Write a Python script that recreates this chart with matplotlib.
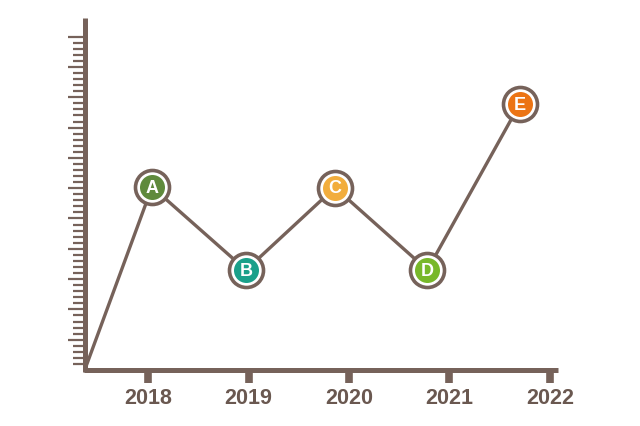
import matplotlib
matplotlib.use("Agg")
import matplotlib.pyplot as plt
from matplotlib.ticker import MultipleLocator

# data
years = [2018, 2019, 2020, 2021, 2022]
point_x = [2018.04, 2018.975, 2019.86, 2020.78, 2021.70]
point_y = [60.4, 33.0, 60.2, 33.0, 87.8]
point_labels = ['A', 'B', 'C', 'D', 'E']
point_colors = ['#5f8a3c', '#1aa08a', '#f2ad3c', '#78b82a', '#ec7414']
origin = (2017.37, 0.0)

brown = '#76625a'

fig = plt.figure(figsize=(6.4, 4.26), dpi=100)
ax = fig.add_axes([0, 0, 1, 1])
ax.set_xlim(2016.527, 2022.896)
ax.set_ylim(-18.48, 122.1)

for s in ['top', 'right']:
    ax.spines[s].set_visible(False)
ax.spines['left'].set_position(('data', origin[0]))
ax.spines['bottom'].set_position(('data', origin[1]))
ax.spines['left'].set_bounds(-0.8, 116.2)
ax.spines['bottom'].set_bounds(origin[0] - 0.012, 2022.08)
for s in ['left', 'bottom']:
    ax.spines[s].set_color(brown)
    ax.spines[s].set_linewidth(3.6)
    ax.spines[s].set_capstyle('butt')

ax.yaxis.set_major_locator(MultipleLocator(10))
ax.yaxis.set_minor_locator(MultipleLocator(2))
ax.tick_params(axis='y', which='major', direction='out', length=12, width=1.6, color=brown, labelleft=False)
ax.tick_params(axis='y', which='minor', direction='out', length=8.5, width=1.6, color=brown)
ax.set_yticks([v for v in range(10, 111, 10)])
ax.set_yticks([v for v in range(2, 110, 2) if v % 10], minor=True)

ax.set_xticks(years)
ax.set_xticklabels([str(y) for y in years])
ax.tick_params(axis='x', which='major', direction='out', length=9, width=5.5, color=brown,
               labelcolor='#6a5850', labelsize=15.5, pad=4)
for lab in ax.get_xticklabels():
    lab.set_family('Liberation Sans')
    lab.set_fontweight('bold')

line_x = [origin[0]] + point_x
line_y = [origin[1]] + point_y
ax.plot(line_x, line_y, color=brown, lw=2.4, zorder=3, solid_capstyle='round')

for x, y, lab, c in zip(point_x, point_y, point_labels, point_colors):
    ax.plot(x, y, 'o', ms=24.5, mfc='white', mec=brown, mew=2.6, zorder=4)
    ax.plot(x, y, 'o', ms=18, mfc=c, mec=c, mew=0, zorder=5)
    ax.text(x, y - 0.4, lab, color='white', fontsize=13, fontweight='bold',
            family='Liberation Sans', ha='center', va='center', zorder=6)

fig.savefig('out.png', dpi=100)
